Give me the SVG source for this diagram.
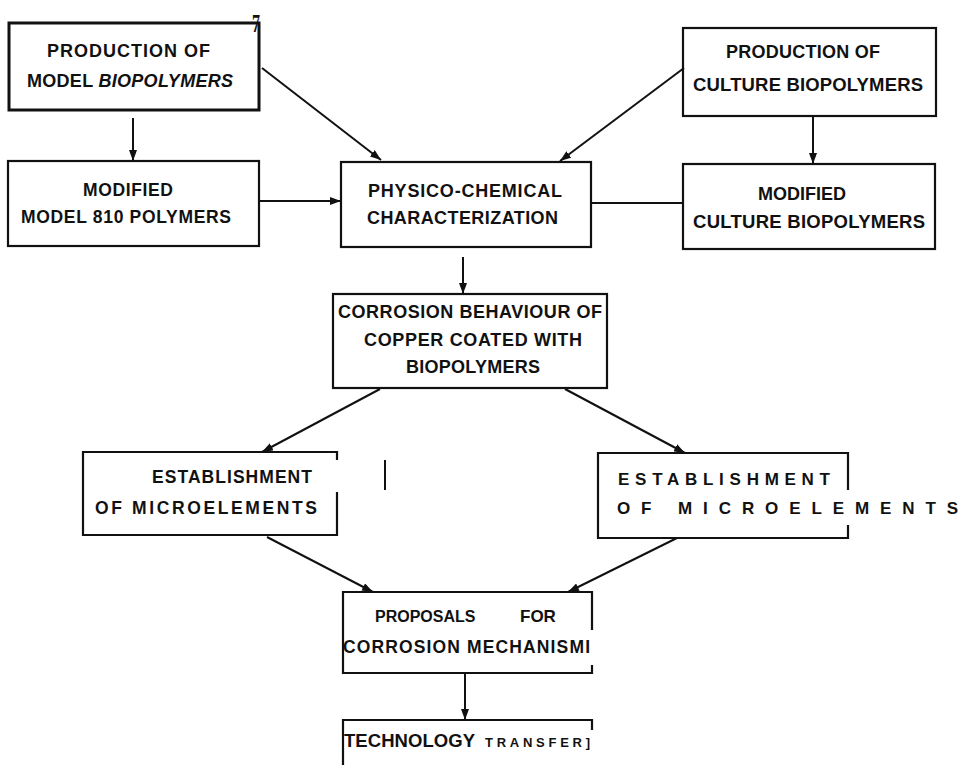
<svg xmlns="http://www.w3.org/2000/svg" width="979" height="765" viewBox="0 0 979 765">
<style>
text{font-family:"Liberation Sans",Arial,sans-serif;font-weight:bold;fill:#111}
.box{fill:none;stroke:#111;stroke-width:2.2}
.thick{stroke-width:3}
.c{stroke:#111;stroke-width:2;fill:none}
.a{marker-end:url(#ah)}
</style>
<defs>
<marker id="ah" markerUnits="userSpaceOnUse" markerWidth="11" markerHeight="8" viewBox="0 0 11 8" refX="11" refY="4" orient="auto">
<path d="M0,0 L11,4 L0,8 z" fill="#111"/>
</marker>
</defs>
<rect width="979" height="765" fill="#fff"/>

<g id="connectors">
<line class="c a" x1="133" y1="118" x2="133" y2="161"/>
<line class="c a" x1="262" y1="68" x2="381" y2="160"/>
<line class="c a" x1="684" y1="68" x2="560" y2="161"/>
<line class="c a" x1="813" y1="116" x2="813" y2="164"/>
<line class="c a" x1="259" y1="201" x2="341" y2="201"/>
<line class="c" x1="591" y1="203" x2="683" y2="203"/>
<line class="c a" x1="463" y1="257" x2="463" y2="294"/>
<line class="c a" x1="380" y1="389" x2="262" y2="452"/>
<line class="c a" x1="565" y1="389" x2="685" y2="453"/>
<line class="c a" x1="267" y1="537" x2="373" y2="592"/>
<line class="c a" x1="677" y1="538" x2="568" y2="592"/>
<line class="c a" x1="465" y1="673" x2="465" y2="720"/>
</g>

<g id="n1">
<rect class="box thick" x="9" y="23" width="250" height="87"/>
<text x="47" y="57" font-size="18" textLength="163">PRODUCTION OF</text>
<text x="27" y="87" font-size="18" textLength="206">MODEL <tspan font-style="italic">BIOPOLYMERS</tspan></text>
<text x="252" y="32" font-size="26" font-weight="normal" style="font-family:'Liberation Serif',serif" textLength="8" lengthAdjust="spacingAndGlyphs">7</text>
</g>

<g id="n2">
<rect class="box" x="683" y="28" width="253" height="88"/>
<text x="726" y="58" font-size="18" textLength="154">PRODUCTION OF</text>
<text x="693" y="91" font-size="18.5" textLength="230">CULTURE BIOPOLYMERS</text>
</g>

<g id="n3">
<rect class="box" x="8" y="161" width="251" height="85"/>
<text x="83" y="196" font-size="17.5" textLength="90">MODIFIED</text>
<text x="21" y="223" font-size="17.5" textLength="210">MODEL 810 POLYMERS</text>
</g>

<g id="n4">
<rect class="box" x="341" y="162" width="250" height="85"/>
<text x="368" y="197" font-size="18" textLength="194">PHYSICO-CHEMICAL</text>
<text x="367" y="224" font-size="18" textLength="191">CHARACTERIZATION</text>
</g>

<g id="n5">
<rect class="box" x="683" y="164" width="252" height="85"/>
<text x="758" y="200" font-size="18" textLength="88">MODIFIED</text>
<text x="693" y="228" font-size="18.5" textLength="232">CULTURE BIOPOLYMERS</text>
</g>

<g id="n6">
<rect class="box" x="333" y="294" width="274" height="94"/>
<text x="338" y="318" font-size="18" textLength="264">CORROSION BEHAVIOUR OF</text>
<text x="364" y="346" font-size="18" textLength="218">COPPER COATED WITH</text>
<text x="406" y="373" font-size="18" textLength="134">BIOPOLYMERS</text>
</g>

<g id="n7">
<path class="box" d="M337,460 L337,452 L83,452 L83,535 L337,535 L337,492"/>
<text x="152" y="483" font-size="17.5" textLength="160">ESTABLISHMENT</text>
<text x="95" y="514" font-size="17.5" textLength="222">OF MICROELEMENTS</text>
<line class="c" x1="385" y1="460" x2="385" y2="490"/>
</g>

<g id="n8">
<path class="box" d="M848,490 L848,453 L598,453 L598,538 L848,538 L848,525"/>
<text x="618" y="485" font-size="17" textLength="212">ESTABLISHMENT</text>
<text x="617" y="514" font-size="17" textLength="341">OF MICROELEMENTS</text>
</g>

<g id="n9">
<path class="box" d="M592,630 L592,592 L343,592 L343,673 L592,673 L592,665"/>
<text x="375" y="622" font-size="16">PROPOSALS</text>
<text x="520" y="622" font-size="17">FOR</text>
<text x="343" y="653" font-size="17.5" textLength="247">CORROSION MECHANISMI</text>
</g>

<g id="n10">
<path class="box" d="M592,730 L592,720 L343,720 L343,765"/>
<text x="344" y="747" font-size="18.5" textLength="131">TECHNOLOGY</text>
<text x="485" y="747" font-size="13" textLength="105">TRANSFER]</text>
</g>
</svg>
